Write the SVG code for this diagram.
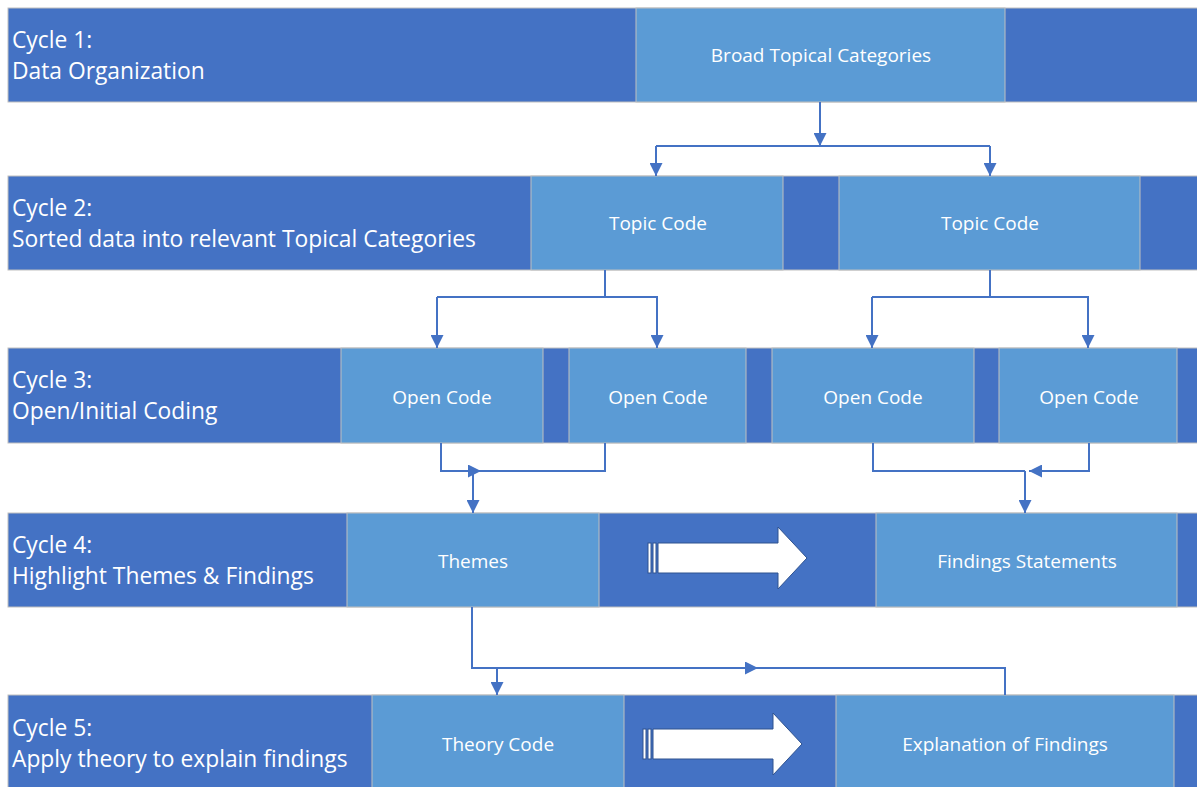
<svg xmlns="http://www.w3.org/2000/svg" width="1197" height="787" viewBox="0 0 1197 787">
<style>
.band{fill:#4472C4;stroke:#BFBFBF;stroke-width:1}
.box{fill:#5B9BD5;stroke:#BFBFBF;stroke-width:1}
.lbl{font-family:"Open Sans","Liberation Sans",Arial,sans-serif;font-size:22.8px;fill:#FFFFFF}
.bt{font-family:"Open Sans","Liberation Sans",Arial,sans-serif;font-size:19px;fill:#FFFFFF;text-anchor:middle}
.con{fill:none;stroke:#4472C4;stroke-width:2}
.blk{fill:#FFFFFF;stroke:#2F528F;stroke-width:1}
</style>
<defs>
<marker id="ah" viewBox="0 0 10 10" refX="10" refY="5" markerWidth="14" markerHeight="13" markerUnits="userSpaceOnUse" orient="auto">
<path d="M0,0 L10,5 L0,10 z" fill="#4472C4"/>
</marker>
<g id="sarrow">
<rect class="blk" x="0" y="-15" width="3" height="30"/>
<rect class="blk" x="5" y="-15" width="3" height="30"/>
<polygon class="blk" points="10,-15 130,-15 130,-31 159,0 130,31 130,15 10,15"/>
</g>
</defs>
<rect width="1197" height="787" fill="#FFFFFF"/>

<g id="cycle1">
<rect class="band" x="8" y="8" width="1195" height="94"/>
<text class="lbl" x="12" y="48">Cycle 1:</text>
<text class="lbl" x="12" y="79">Data Organization</text>
</g>
<g id="broad">
<rect class="box" x="636" y="8" width="369" height="94"/>
<text class="bt" x="821" y="62">Broad Topical Categories</text>
</g>

<g id="cycle2">
<rect class="band" x="8" y="176" width="1195" height="94"/>
<text class="lbl" x="12" y="216">Cycle 2:</text>
<text class="lbl" x="12" y="247">Sorted data into relevant Topical Categories</text>
</g>
<g id="topic1">
<rect class="box" x="531" y="176" width="252" height="94"/>
<text class="bt" x="658" y="230">Topic Code</text>
</g>
<g id="topic2">
<rect class="box" x="839" y="176" width="301" height="94"/>
<text class="bt" x="990" y="230">Topic Code</text>
</g>

<g id="cycle3">
<rect class="band" x="8" y="348" width="1195" height="95"/>
<text class="lbl" x="12" y="388">Cycle 3:</text>
<text class="lbl" x="12" y="419">Open/Initial Coding</text>
</g>
<g id="open1">
<rect class="box" x="341" y="348" width="202" height="95"/>
<text class="bt" x="442" y="404">Open Code</text>
</g>
<g id="open2">
<rect class="box" x="569" y="348" width="177" height="95"/>
<text class="bt" x="658" y="404">Open Code</text>
</g>
<g id="open3">
<rect class="box" x="772" y="348" width="202" height="95"/>
<text class="bt" x="873" y="404">Open Code</text>
</g>
<g id="open4">
<rect class="box" x="999" y="348" width="178" height="95"/>
<text class="bt" x="1089" y="404">Open Code</text>
</g>

<g id="cycle4">
<rect class="band" x="8" y="513" width="1195" height="94"/>
<text class="lbl" x="12" y="553">Cycle 4:</text>
<text class="lbl" x="12" y="584">Highlight Themes &amp; Findings</text>
</g>
<g id="themes">
<rect class="box" x="347" y="513" width="252" height="94"/>
<text class="bt" x="473" y="568">Themes</text>
</g>
<g id="arrow4">
<use href="#sarrow" transform="translate(648,558)"/>
</g>
<g id="findings">
<rect class="box" x="876" y="513" width="301" height="94"/>
<text class="bt" x="1027" y="568">Findings Statements</text>
</g>

<g id="cycle5">
<rect class="band" x="8" y="695" width="1195" height="100"/>
<text class="lbl" x="12" y="736">Cycle 5:</text>
<text class="lbl" x="12" y="767">Apply theory to explain findings</text>
</g>
<g id="theory">
<rect class="box" x="372" y="695" width="252" height="100"/>
<text class="bt" x="498" y="751">Theory Code</text>
</g>
<g id="arrow5">
<use href="#sarrow" transform="translate(643,744)"/>
</g>
<g id="explanation">
<rect class="box" x="836" y="695" width="338" height="100"/>
<text class="bt" x="1005" y="751">Explanation of Findings</text>
</g>

<g id="connectors">
<path class="con" d="M820,102 V146" marker-end="url(#ah)"/>
<path class="con" d="M656,146 H990"/>
<path class="con" d="M656,146 V176" marker-end="url(#ah)"/>
<path class="con" d="M990,146 V176" marker-end="url(#ah)"/>

<path class="con" d="M605,270 V297 H437"/>
<path class="con" d="M437,297 V348" marker-end="url(#ah)"/>
<path class="con" d="M605,297 H657 V348" marker-end="url(#ah)"/>

<path class="con" d="M990,270 V297 H872"/>
<path class="con" d="M872,297 V348" marker-end="url(#ah)"/>
<path class="con" d="M990,297 H1088 V348" marker-end="url(#ah)"/>

<path class="con" d="M605,443 V471 H473"/>
<path class="con" d="M441,443 V471 H481" marker-end="url(#ah)"/>
<path class="con" d="M473,471 V513" marker-end="url(#ah)"/>

<path class="con" d="M873,443 V471 H1025"/>
<path class="con" d="M1089,443 V471 H1029" marker-end="url(#ah)"/>
<path class="con" d="M1025,471 V513" marker-end="url(#ah)"/>

<path class="con" d="M472,607 V668 H758" marker-end="url(#ah)"/>
<path class="con" d="M1005,695 V668 H757"/>
<path class="con" d="M497,668 V695" marker-end="url(#ah)"/>
</g>
</svg>
